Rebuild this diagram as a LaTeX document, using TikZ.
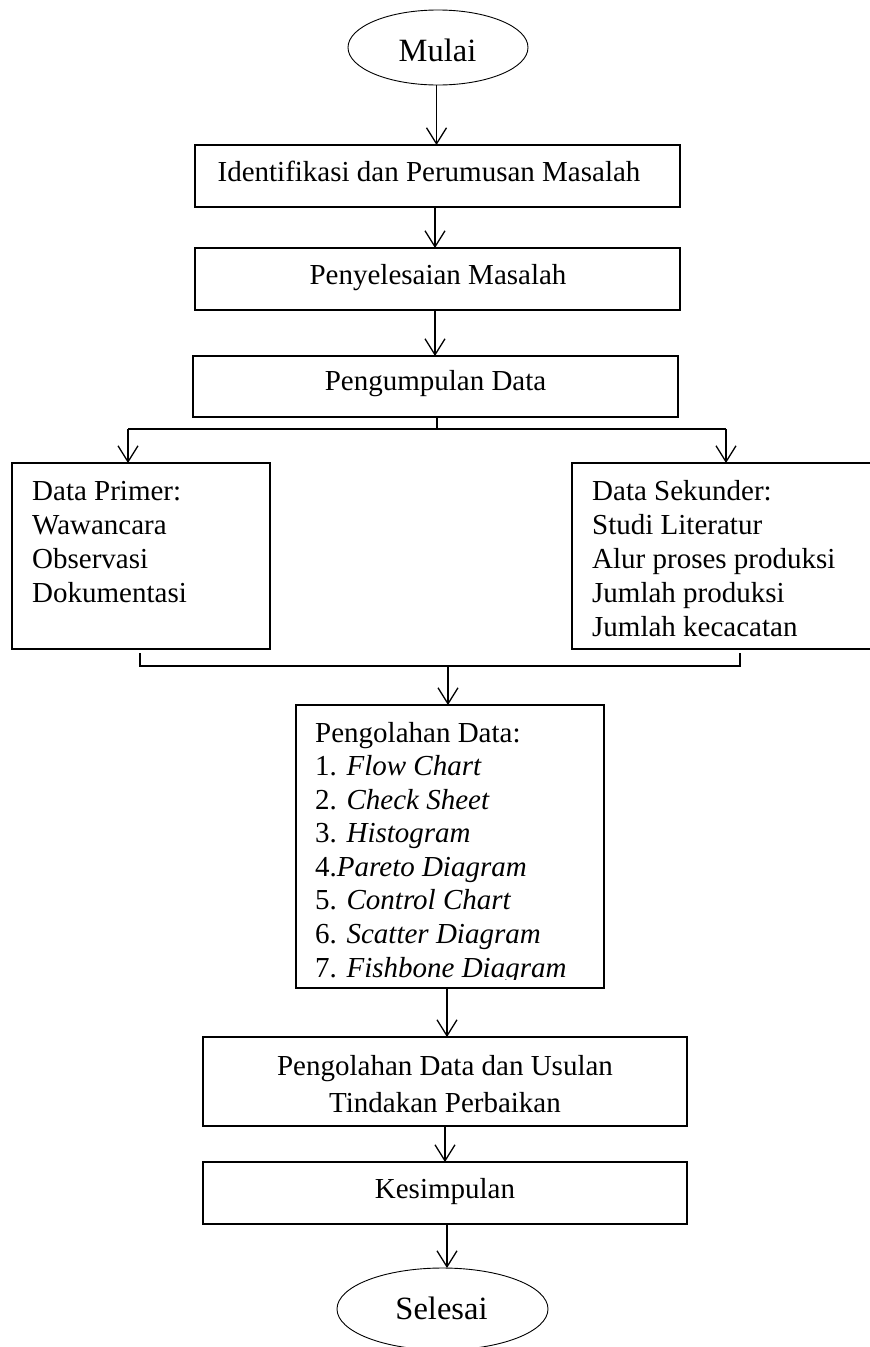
\documentclass[tikz,border=0pt]{standalone}
\usepackage{fontspec}
\setmainfont{Liberation Serif}
\usetikzlibrary{shapes.geometric,arrows.meta,calc}
\newcommand{\fsz}{\fontsize{29}{33.5}\selectfont}
\newcommand{\fszt}{\fontsize{32.5}{36}\selectfont}
\begin{document}
\begin{tikzpicture}[x=1pt,y=-1pt,
  box/.style={draw, line width=1.1pt, rectangle, inner sep=0pt, outer sep=0pt},
  term/.style={draw, ellipse, line width=0.9pt, inner sep=0pt, outer sep=0pt},
  txt/.style={anchor=base, inner sep=0pt, font=\fsz},
  ttxt/.style={anchor=base, inner sep=0pt, font=\fszt},
  ltxt/.style={anchor=base west, inner sep=0pt, font=\fsz},
  arr/.style={line width=1.3pt, -{Straight Barb[length=16pt,width=20pt,line width=1.3pt]}},
  ln/.style={line width=1.3pt}]
\useasboundingbox (0,0) rectangle (870,1347);
\clip (0,0) rectangle (870,1347);
% terminals
\node[term, minimum width=180pt, minimum height=75pt] (start) at (438,47.5) {};
\node[ttxt] (tstart) at (437.5,61) {Mulai};
\node[term, minimum width=211pt, minimum height=82pt] (stop) at (442.5,1309) {};
\node[ttxt] (tstop) at (441.5,1319) {Selesai};
% process boxes
\node[box, minimum width=485pt, minimum height=62pt] (b1) at (437.5,176) {};
\node[txt] (t1) at (429,181) {Identifikasi dan Perumusan Masalah};
\node[box, minimum width=485pt, minimum height=62pt] (b2) at (437.5,279) {};
\node[txt] (t2) at (438,284) {Penyelesaian Masalah};
\node[box, minimum width=485pt, minimum height=61pt] (b3) at (435.5,386.5) {};
\node[txt] (t3) at (435.5,390) {Pengumpulan Data};
% data boxes
\node[box, minimum width=258pt, minimum height=186pt] (L) at (141,556) {};
\node[ltxt] (l1) at (32,500) {Data Primer:};
\node[ltxt] (l2) at (32,534) {Wawancara};
\node[ltxt] (l3) at (32,568) {Observasi};
\node[ltxt] (l4) at (32,602) {Dokumentasi};
\node[box, minimum width=308pt, minimum height=186pt] (R) at (726,556) {};
\node[ltxt] (r1) at (592,500) {Data Sekunder:};
\node[ltxt] (r2) at (592,534) {Studi Literatur};
\node[ltxt] (r3) at (592,568) {Alur proses produksi};
\node[ltxt] (r4) at (592,602) {Jumlah produksi};
\node[ltxt] (r5) at (592,636) {Jumlah kecacatan};
% pengolahan box
\begin{scope}
\clip (296,705) rectangle (604,979.5);
\node[ltxt] (p0) at (315,742) {Pengolahan Data:};
\node[ltxt] (p1) at (315,775.5) {1. \textit{Flow Chart}};
\node[ltxt] (p2) at (315,809) {2. \textit{Check Sheet}};
\node[ltxt] (p3) at (315,842.5) {3. \textit{Histogram}};
\node[ltxt] (p4) at (315,876) {4.\textit{Pareto Diagram}};
\node[ltxt] (p5) at (315,909.5) {5. \textit{Control Chart}};
\node[ltxt] (p6) at (315,943) {6. \textit{Scatter Diagram}};
\node[ltxt] (p7) at (315,977.5) {7. \textit{Fishbone Diagram}};
\end{scope}
\node[box, minimum width=308pt, minimum height=283pt] (P) at (450,846.5) {};
\node[box, minimum width=484pt, minimum height=89pt] (b4) at (445,1081.5) {};
\node[txt] (t4a) at (445,1075) {Pengolahan Data dan Usulan};
\node[txt] (t4b) at (445,1112) {Tindakan Perbaikan};
\node[box, minimum width=484pt, minimum height=62pt] (b5) at (445,1193) {};
\node[txt] (t5) at (445,1198) {Kesimpulan};
% connectors
\draw[arr] ([xshift=-1.5pt]start.south) -- ([xshift=-1.5pt]start.south |- b1.north);
\draw[arr] ([xshift=-2.5pt]b1.south) -- ([xshift=-2.5pt]b1.south |- b2.north);
\draw[arr] ([xshift=-2.5pt]b2.south) -- ([xshift=-2.5pt]b2.south |- b3.north);
\coordinate (sp) at (437,429);
\coordinate (sL) at (128,429);
\coordinate (sR) at (726,429);
\draw[ln] ([xshift=1.5pt]b3.south) |- (sp);
\draw[ln] (sL) -- (sR);
\draw[arr] (sL) -- (sL |- L.north);
\draw[arr] (sR) -- (sR |- R.north);
\coordinate (mL) at (140,666);
\coordinate (mR) at (740,666);
\coordinate (mc) at (448,666);
\draw[ln] (mL |- 0,653) -- (mL) -- (mR) -- (mR |- 0,653);
\draw[arr] (mc) -- (mc |- P.north);
\draw[arr] ([xshift=-3pt]P.south) -- ([xshift=-3pt]P.south |- b4.north);
\draw[arr] (b4.south) -- (b5.north);
\draw[arr] ([xshift=2pt]b5.south) -- ([xshift=2pt]b5.south |- stop.north);
\end{tikzpicture}
\end{document}
